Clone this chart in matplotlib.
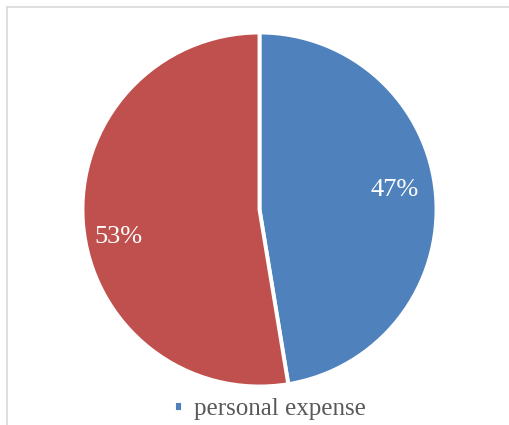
import matplotlib.pyplot as plt
from matplotlib.lines import Line2D

labels = ['personal expense', '']
shares = [47.4, 52.6]
colors = ['#4F81BD', '#C0504D']

plt.rcParams['font.family'] = ['Liberation Serif', 'DejaVu Serif']

fig = plt.figure(figsize=(5.10, 4.25), dpi=100)
W, H = 510, 425

# chart frame (top and left edge visible)
fig.add_artist(Line2D([7/W, 7/W], [0, 1-7/H], color='#D9D9D9', lw=1.2, transform=fig.transFigure))
fig.add_artist(Line2D([7/W, 1], [1-7/H, 1-7/H], color='#D9D9D9', lw=1.2, transform=fig.transFigure))

cx, cy, r = 259.5, 209.5, 177
ax = fig.add_axes([(cx-r)/W, 1-(cy+r)/H, 2*r/W, 2*r/H])
wedges, texts, autotexts = ax.pie(shares, colors=colors, startangle=90, counterclock=False,
                                  autopct='%.0f%%', pctdistance=0.75, radius=1,
                                  wedgeprops=dict(edgecolor='white', linewidth=2.8),
                                  textprops=dict(color='white', fontsize=19))
# label placement as in the reference
autotexts[0].set_position((0.765, 0.110))
autotexts[1].set_position((-0.795, -0.155))
ax.set_xlim(-1, 1)
ax.set_ylim(-1, 1)
ax.axis('off')

fig.legend([wedges[0]], [labels[0]], loc='center', bbox_to_anchor=(270/W, 1-409/H),
           frameon=False, fontsize=18, handlelength=0.38, handleheight=0.3,
           handletextpad=0.45, labelcolor='#595959')

fig.savefig('out.png', dpi=100)
